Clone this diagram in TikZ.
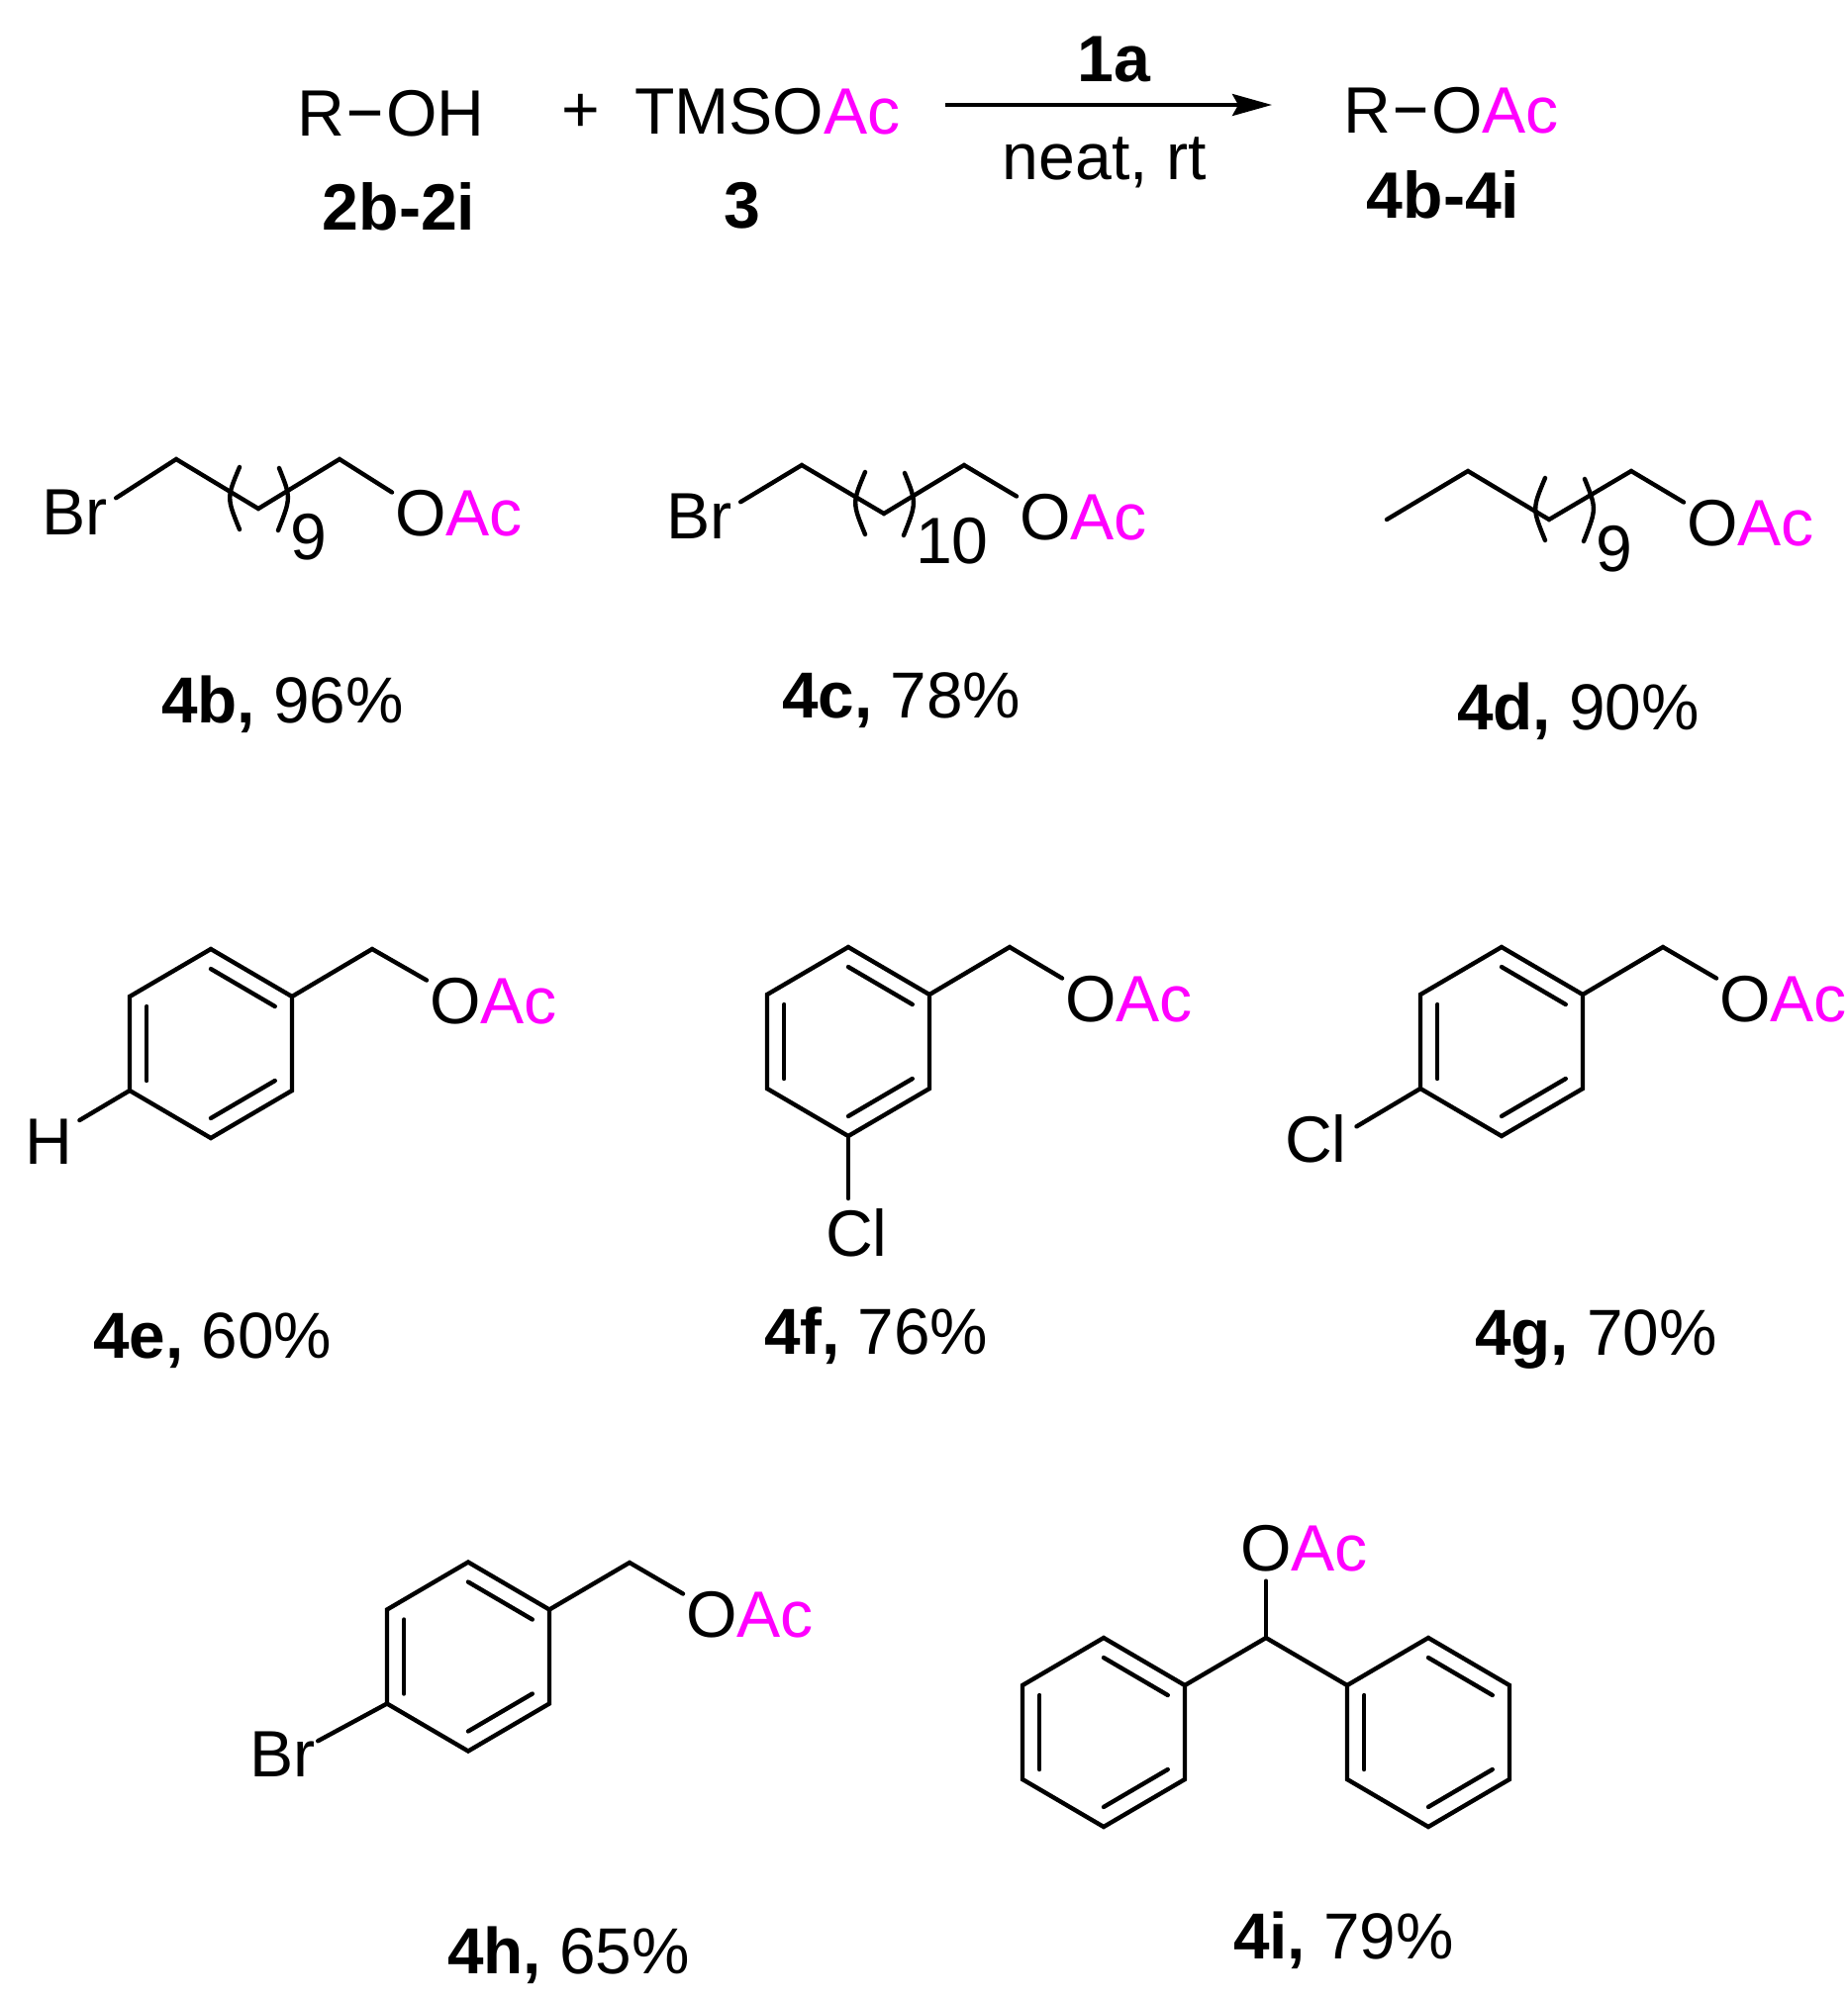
\documentclass[tikz,border=0pt]{standalone}
\usepackage{fontspec}
\setmainfont{Liberation Sans}
\usetikzlibrary{calc,arrows.meta}
\definecolor{acpink}{HTML}{FF00FF}
\tikzset{
  bond/.style={line width=2.2pt,line cap=round,line join=miter,black},
  dashbond/.style={line width=2.5pt,line cap=butt,black,shorten <=2.5pt,shorten >=3pt},
  atom/.style={inner sep=0pt,outer sep=0pt,font=\fontsize{33.1}{36}\selectfont},
  atomb/.style={atom,anchor=base west},
  caption/.style={atom,anchor=base west,font=\fontsize{32.85}{36}\selectfont},
  boldlab/.style={atom,anchor=base,font=\fontsize{33.1}{36}\selectfont\bfseries},
  rxnarrow/.style={line width=1.9pt,-{Stealth[length=20pt,width=11pt,inset=3pt]}}
}
% ring: name, cx, cy
\newcommand{\benzene}[3]{%
  \coordinate (#1c) at (#2,#3);
  \coordinate (#11) at (#2,{#3-95.5});
  \coordinate (#12) at ({#2+82},{#3-47.5});
  \coordinate (#13) at ({#2+82},{#3+47.5});
  \coordinate (#14) at (#2,{#3+95.5});
  \coordinate (#15) at ({#2-82},{#3+47.5});
  \coordinate (#16) at ({#2-82},{#3-47.5});
  \draw[bond] (#11) -- (#12) -- (#13) -- (#14) -- (#15) -- (#16) -- cycle;
  \draw[bond] ($(#1c)!0.79!(#11)$) -- ($(#1c)!0.79!(#12)$);
  \draw[bond] ($(#1c)!0.79!(#13)$) -- ($(#1c)!0.79!(#14)$);
  \draw[bond] ($(#1c)!0.79!(#15)$) -- ($(#1c)!0.79!(#16)$);
}
% OAc: name, x left, baseline; #1e is where a bond coming from upper left stops
\newcommand{\oac}[3]{%
  \node[atomb] (#1) at (#2,#3) {O};
  \node[atomb,text=acpink] (#1ac) at (#1.base east) {Ac};
  \coordinate (#1e) at ($(#1.base west)+(-3,-43.5)$);
}
% parentheses round a chain vertex; #2 = sideways offset
\newcommand{\repeatparens}[2]{%
  \begin{scope}[shift={(#1)},xshift=#2*0.5pt]
    \draw[bond] (-19,-42) .. controls (-32,-11) .. (-19,21);
    \draw[bond] (21,-41) .. controls (33,-11) .. (20,22);
  \end{scope}
}
\newcommand{\yieldlab}[5]{%
  \node[caption] (#1) at (#2,#3) {\textbf{#4,} #5\%};
}
\begin{document}
\begin{tikzpicture}[x=0.5pt,y=-0.5pt]
\useasboundingbox (0,0) rectangle (1867,2020);
\fill[white] (0,0) rectangle (1867,2020);

% --- scheme
\node[atomb] (r1) at (300,137) {R};
\node[atomb] (oh) at (390,137) {OH};
\draw[dashbond] (r1.east) -- (oh.west);
\node[atom] (plus) at (587,114) {+};
\node[atomb] (tmso) at (641,135) {TMSO};
\node[atomb,text=acpink] (tmsoac) at (tmso.base east) {Ac};
\coordinate (arrs) at (955,106);
\coordinate (arre) at (1285,106);
\draw[rxnarrow] (arrs) -- (arre);
\node[boldlab] (cat) at (1125,82) {1a};
\node[atom,anchor=base] (cond) at (1116,181) {neat, rt};
\node[atomb] (r2) at (1357,134) {R};
\oac{op}{1446}{134}
\draw[dashbond] (r2.east) -- (op.west);
\node[boldlab] (l2) at (403,232) {2b-2i};
\node[boldlab] (l3) at (750,230) {3};
\node[boldlab] (l4) at (1458,220) {4b-4i};

% --- 4b
\node[atomb] (brb) at (42,540) {Br};
\coordinate (b1) at (178,464);
\coordinate (b2) at (261,514);
\coordinate (b3) at (343,464);
\oac{ob}{399}{541}
\draw[bond] ($(brb.east)+(9,-14)$) -- (b1) -- (b2) -- (b3) -- (obe);
\repeatparens{b2}{0}
\node[atom,anchor=base] (nb) at (312,565) {9};
\yieldlab{lb}{163}{730}{4b}{96}

% --- 4c
\node[atomb] (brc) at (673,544) {Br};
\coordinate (c1) at (810,470);
\coordinate (c2) at (893,519);
\coordinate (c3) at (974,470);
\oac{oc}{1030}{545}
\draw[bond] ($(brc.east)+(9,-14)$) -- (c1) -- (c2) -- (c3) -- (oce);
\repeatparens{c2}{0}
\node[atom,anchor=base] (nc) at (962,569) {10};
\yieldlab{lc}{790}{725}{4c}{78}

% --- 4d
\coordinate (d0) at (1401,525);
\coordinate (d1) at (1483,476);
\coordinate (d2) at (1565,525);
\coordinate (d3) at (1648,476);
\oac{od}{1704}{551}
\draw[bond] (d0) -- (d1) -- (d2) -- (d3) -- (ode);
\repeatparens{d2}{15}
\node[atom,anchor=base] (nd) at (1631,577) {9};
\yieldlab{ld}{1472}{737}{4d}{90}

% --- 4e
\benzene{e}{213}{1054.5}
\coordinate (ech) at (376,959);
\oac{oe}{434}{1034}
\draw[bond] (e2) -- (ech) -- (oee);
\node[atom] (he) at (49,1153.5) {H};
\draw[bond] (e5) -- ($(he.east)+(7.5,-21.5)$);
\yieldlab{le}{94}{1372}{4e}{60}

% --- 4f
\benzene{f}{857}{1052.5}
\coordinate (fch) at (1020,957);
\oac{of}{1076}{1032}
\draw[bond] (f2) -- (fch) -- (ofe);
\node[atomb] (clf) at (834,1269) {Cl};
\draw[bond,shorten >=5pt] (f4) -- (f4 |- clf.north);
\yieldlab{lf}{772}{1368}{4f}{76}

% --- 4g
\benzene{g}{1517}{1052.5}
\coordinate (gch) at (1680,957);
\oac{og}{1737}{1032}
\draw[bond] (g2) -- (gch) -- (oge);
\node[atomb] (clg) at (1298,1174) {Cl};
\draw[bond] (g5) -- ($(clg.east)+(10,-12)$);
\yieldlab{lg}{1490}{1369}{4g}{70}

% --- 4h
\benzene{h}{473}{1674}
\coordinate (hch) at (636,1579);
\oac{ohh}{693}{1654}
\draw[bond] (h2) -- (hch) -- (ohhe);
\node[atomb] (brh) at (252,1795) {Br};
\draw[bond] (h5) -- ($(brh.east)+(3,-13)$);
\yieldlab{lh}{452}{1994}{4h}{65}

% --- 4i
\benzene{il}{1115}{1750.5}
\benzene{ir}{1443}{1750.5}
\coordinate (ich) at (1279,1655);
\oac{oi}{1253}{1587}
\draw[bond] (il2) -- (ich) -- (ir6);
\draw[bond,shorten >=5pt] (ich) -- (ich |- oi.south);
\yieldlab{li}{1246}{1979}{4i}{79}
\end{tikzpicture}
\end{document}
